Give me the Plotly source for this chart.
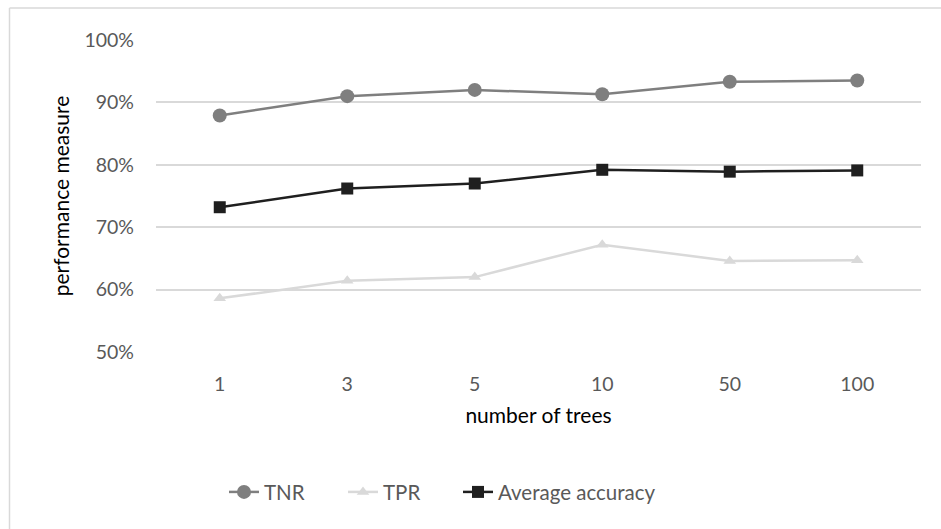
import plotly.graph_objects as go

# Number of trees in the forest (category labels on the x axis)
trees = ["1", "3", "5", "10", "50", "100"]

# Performance measures, in percent
tnr = [87.9, 91.0, 92.0, 91.3, 93.3, 93.5]
tpr = [58.6, 61.4, 62.0, 67.2, 64.6, 64.7]
avg_accuracy = [73.2, 76.2, 77.0, 79.2, 78.9, 79.1]

y_ticks = [50, 60, 70, 80, 90, 100]
y_tick_text = [f"{v}%" for v in y_ticks]

FONT = "Lato"
TEXT = "#595959"
GRID = "#d9d9d9"

fig = go.Figure()
fig.add_trace(go.Scatter(
    x=trees, y=tnr, name="TNR", mode="lines+markers", legend="legend",
    line=dict(color="#7f7f7f", width=2.5),
    marker=dict(symbol="circle", size=14, color="#7f7f7f"),
))
fig.add_trace(go.Scatter(
    x=trees, y=tpr, name="TPR", mode="lines+markers", legend="legend2",
    line=dict(color="#d9d9d9", width=2.5),
    marker=dict(symbol="triangle-up", size=11, color="#d9d9d9"),
))
fig.add_trace(go.Scatter(
    x=trees, y=avg_accuracy, name="Average accuracy", mode="lines+markers", legend="legend3",
    line=dict(color="#1f1f1f", width=2.5),
    marker=dict(symbol="square", size=12, color="#1f1f1f"),
))

L, R, T, B = 156, 20, 40, 177
W, H = 941, 529
pw, ph = W - L - R, H - T - B

# chart-area frame (left and top edges)
bx = (9.5 - L) / pw
by = 1 + (T - 8) / ph
fig.add_shape(type="line", xref="paper", yref="paper", x0=bx, x1=1.2, y0=by, y1=by,
              line=dict(color=GRID, width=1.5))
fig.add_shape(type="line", xref="paper", yref="paper", x0=bx, x1=bx, y0=by, y1=-0.7,
              line=dict(color=GRID, width=1.5))


def legend_box(left_px):
    return dict(orientation="h", x=(left_px - L) / pw, xanchor="left",
                y=-0.449, yanchor="middle",
                font=dict(family=FONT, size=20.5, color=TEXT),
                bgcolor="rgba(0,0,0,0)")


fig.update_layout(
    width=W, height=H,
    margin=dict(l=L, r=R, t=T, b=B),
    paper_bgcolor="white", plot_bgcolor="white",
    font=dict(family=FONT, size=19.5, color=TEXT),
    showlegend=True,
    legend=legend_box(224),
    legend2=legend_box(343),
    legend3=legend_box(458),
    xaxis=dict(
        type="category", range=[-0.5, 5.5], showgrid=False, showline=False, zeroline=False,
        ticks="", ticklabelstandoff=18,
        tickfont=dict(family=FONT, size=19.5, color=TEXT),
        title=dict(text="number of trees", standoff=14,
                   font=dict(family=FONT, size=21, color="#000000")),
    ),
    yaxis=dict(
        range=[50, 100], tickvals=y_ticks, ticktext=y_tick_text,
        showgrid=True, gridcolor=GRID, gridwidth=1.5, showline=False, zeroline=False,
        ticks="", ticklabelstandoff=21,
        tickfont=dict(family=FONT, size=19.5, color=TEXT),
        title=dict(text="performance measure", standoff=9,
                   font=dict(family=FONT, size=21, color="#000000")),
    ),
)

fig.write_html("out.html")
